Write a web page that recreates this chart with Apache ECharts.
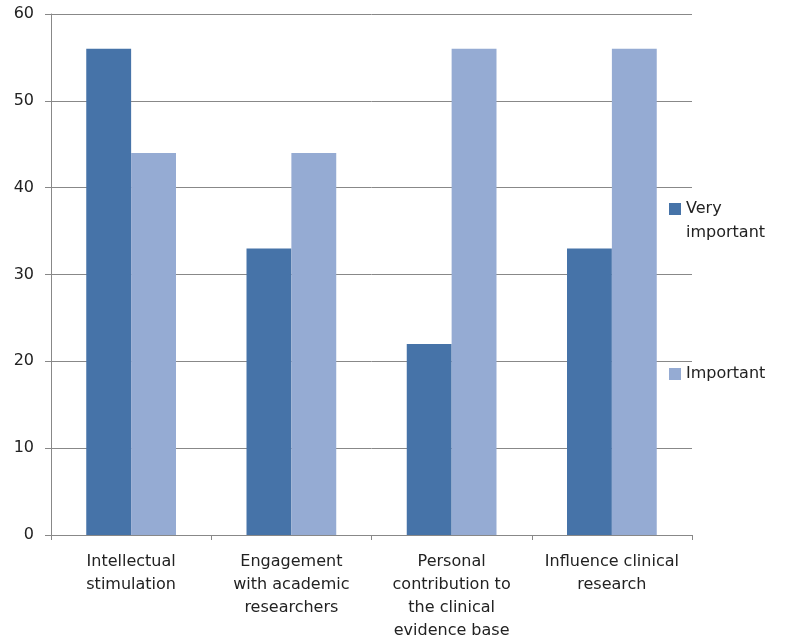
<!DOCTYPE html>
<html>
<head>
<meta charset="utf-8">
<script src="https://cdn.jsdelivr.net/npm/echarts@6/dist/echarts.min.js"></script>
<style>html,body{margin:0;padding:0;background:#fff;}#c{width:789px;height:639px;}</style>
</head>
<body>
<div id="c"></div>
<script>
var categories = ["Intellectual\nstimulation", "Engagement\nwith academic\nresearchers", "Personal\ncontribution to\nthe clinical\nevidence base", "Influence clinical\nresearch"];
var seriesNames = ["Very important", "Important"];
var veryImportant = [56, 33, 22, 33];
var important = [44, 44, 56, 56];
var yTicks = [0, 10, 20, 30, 40, 50, 60];

var FONT = "DejaVu Sans";
var chart = echarts.init(document.getElementById('c'), null, {renderer: 'canvas'});
chart.setOption({
  animation: false,
  textStyle: {fontFamily: FONT},
  grid: {left: 51, top: 14, right: 97, bottom: 104, containLabel: false, outerBoundsMode: 'none'},
  legend: [
    {
      data: [seriesNames[0]], orient: 'vertical', left: 669, top: 173, padding: 0,
      itemWidth: 12, itemHeight: 12, itemGap: 0, icon: 'rect',
      formatter: function (n) { return ' \n' + n.replace(' ', '\n'); },
      textStyle: {fontFamily: FONT, fontSize: 16, color: '#222', lineHeight: 24}
    },
    {
      data: [seriesNames[1]], orient: 'vertical', left: 669, top: 362, padding: 0,
      itemWidth: 12, itemHeight: 12, itemGap: 0, icon: 'rect',
      textStyle: {fontFamily: FONT, fontSize: 16, color: '#222', lineHeight: 24}
    }
  ],
  xAxis: {
    type: 'category', data: categories,
    axisLine: {lineStyle: {color: '#888', width: 1}},
    axisTick: {show: true, length: 5, lineStyle: {color: '#888'}},
    axisLabel: {interval: 0, fontFamily: FONT, fontSize: 16, color: '#222', lineHeight: 23, margin: 15}
  },
  yAxis: {
    type: 'value', min: yTicks[0], max: yTicks[yTicks.length - 1], interval: 10,
    axisLine: {show: true, lineStyle: {color: '#888', width: 1}},
    axisTick: {show: true, length: 6, lineStyle: {color: '#888'}},
    splitLine: {lineStyle: {color: '#888', width: 1}},
    axisLabel: {fontFamily: FONT, fontSize: 16, color: '#222', margin: 17}
  },
  series: [
    {name: seriesNames[0], type: 'bar', data: veryImportant, barGap: '0%', barCategoryGap: '44%', itemStyle: {color: '#4673A8'}},
    {name: seriesNames[1], type: 'bar', data: important, itemStyle: {color: '#95ABD3'}}
  ]
});
</script>
</body>
</html>
